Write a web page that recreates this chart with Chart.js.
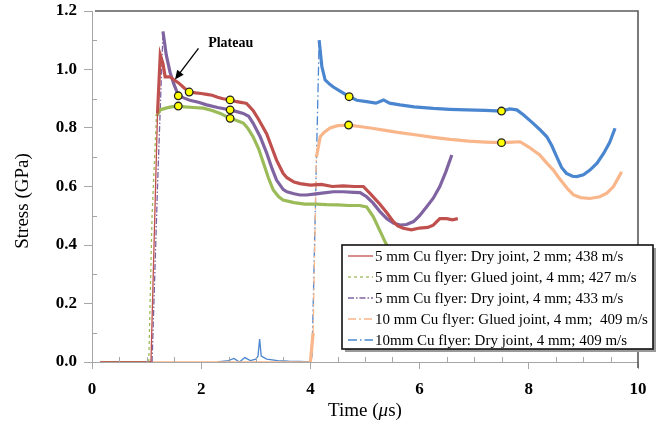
<!DOCTYPE html>
<html><head><meta charset="utf-8">
<script src="https://cdn.jsdelivr.net/npm/chart.js@4.4.1/dist/chart.umd.min.js"></script>
<style>html,body{margin:0;padding:0;background:#fff;}#wrap{width:662px;height:436px;position:relative;}</style>
</head><body><div id="wrap"><canvas id="c" width="662" height="436"></canvas></div>
<script>
// ---- data ----
const seriesLabels = [
  '5 mm Cu flyer: Dry joint, 2 mm; 438 m/s',
  '5 mm Cu flyer: Glued joint, 4 mm; 427 m/s',
  '5 mm Cu flyer: Dry joint, 4 mm; 433 m/s',
  '10 mm Cu flyer: Glued joint, 4 mm;  409 m/s',
  '10mm Cu flyer: Dry joint, 4 mm; 409 m/s'
];
const redT = [0.15,1.08,1.15,1.2,1.25,1.3,1.34,1.43,1.5,1.58,1.7,1.78,1.9,2.0,2.1,2.2,2.3,2.4,2.53,2.65,2.75,2.83,2.95,3.05,3.2,3.3,3.38,3.5,3.57,3.7,3.81,4.0,4.2,4.4,4.6,4.8,4.97,5.1,5.27,5.4,5.52,5.6,5.7,5.85,6.0,6.15,6.25,6.37,6.5,6.6,6.7];
const redV = [0,0,0.5,0.85,1.05,1.02,0.975,0.975,0.965,0.955,0.935,0.923,0.92,0.918,0.915,0.912,0.905,0.9,0.896,0.89,0.887,0.884,0.86,0.83,0.78,0.73,0.69,0.645,0.63,0.615,0.61,0.605,0.607,0.6,0.602,0.6,0.6,0.575,0.54,0.51,0.48,0.465,0.457,0.452,0.458,0.46,0.468,0.49,0.49,0.486,0.49];
const greenT = [0.15,1.04,1.1,1.18,1.25,1.35,1.45,1.58,1.7,1.85,2.04,2.2,2.35,2.53,2.65,2.77,2.85,2.95,3.05,3.14,3.23,3.32,3.42,3.5,3.7,3.9,4.1,4.3,4.5,4.7,4.9,5.03,5.15,5.27,5.37,5.45];
const greenV = [0,0,0.5,0.84,0.862,0.868,0.872,0.875,0.872,0.87,0.868,0.86,0.85,0.833,0.826,0.817,0.8,0.77,0.73,0.68,0.63,0.588,0.565,0.554,0.545,0.54,0.54,0.538,0.537,0.535,0.535,0.53,0.497,0.45,0.41,0.38];
const purpleT = [0.15,1.1,1.2,1.3,1.36,1.43,1.5,1.58,1.68,1.79,1.95,2.1,2.3,2.53,2.65,2.77,2.87,2.95,3.08,3.2,3.3,3.38,3.5,3.57,3.7,3.81,3.93,4.1,4.25,4.42,4.6,4.8,4.91,5.03,5.15,5.27,5.4,5.52,5.64,5.76,5.89,6.0,6.13,6.25,6.37,6.48,6.59];
const purpleV = [0,0,0.6,1.13,1.05,0.99,0.95,0.912,0.903,0.895,0.888,0.879,0.87,0.862,0.856,0.85,0.84,0.817,0.77,0.714,0.66,0.622,0.59,0.582,0.575,0.571,0.571,0.575,0.578,0.582,0.582,0.58,0.579,0.565,0.543,0.515,0.49,0.475,0.468,0.47,0.48,0.5,0.531,0.56,0.6,0.65,0.708];
const orangeT = [0.15,4.0,4.05,4.11,4.18,4.25,4.36,4.5,4.7,4.9,5.1,5.34,5.6,5.95,6.25,6.56,6.9,7.2,7.5,7.7,7.84,8.0,8.2,8.33,8.45,8.55,8.63,8.72,8.82,8.95,9.12,9.3,9.43,9.55,9.7];
const orangeV = [0,0,0.1,0.7,0.77,0.785,0.8,0.808,0.81,0.805,0.8,0.793,0.785,0.776,0.768,0.761,0.755,0.752,0.75,0.752,0.753,0.735,0.708,0.68,0.656,0.63,0.611,0.59,0.571,0.562,0.559,0.565,0.577,0.6,0.65];
const blueT = [2.3,2.5,2.6,2.7,2.8,2.9,3.0,3.04,3.07,3.1,3.2,3.4,3.6,3.8,4.0,4.03,4.1,4.16,4.21,4.27,4.35,4.42,4.55,4.71,4.85,5.03,5.2,5.34,5.45,5.64,5.9,6.25,6.55,6.86,7.2,7.5,7.65,7.78,7.9,8.08,8.2,8.33,8.42,8.51,8.6,8.69,8.8,8.88,9.0,9.12,9.25,9.37,9.48,9.58];
const blueV = [0,0.005,0.012,0,0.015,0.005,0.01,0.02,0.078,0.02,0.01,0.005,0.003,0.002,0,0.02,0.6,1.1,1.01,0.964,0.95,0.94,0.925,0.907,0.895,0.89,0.885,0.896,0.885,0.879,0.872,0.867,0.864,0.862,0.86,0.858,0.865,0.862,0.845,0.816,0.795,0.77,0.74,0.702,0.665,0.645,0.635,0.634,0.64,0.656,0.68,0.713,0.75,0.799];
const markerT = [1.78,2.53,1.58,2.53,1.58,2.53,4.71,7.5,4.7,7.5];
const markerV = [0.923,0.896,0.875,0.833,0.91,0.862,0.907,0.858,0.81,0.75];
const xTickValues = [0,2,4,6,8,10];
const yTickValues = [0,0.2,0.4,0.6,0.8,1.0,1.2];
const annotationText = 'Plateau';

// ---- styles ----
const colors = ['#c0504d','#9bbb59','#8064a2','#f9b68a','#4a86cf'];
const dashes = [[],[3,3],[6,2,1.5,2],[8,3,2,3],[9,3,1.5,3]];
const SERIF = "'Liberation Serif','Times New Roman',serif";

function pts(T,V){ return T.map((t,i)=>({x:t,y:V[i]})); }
const seriesData = [pts(redT,redV),pts(greenT,greenV),pts(purpleT,purpleV),pts(orangeT,orangeV),pts(blueT,blueV)];

const lineSets = seriesData.map((d,i)=>({
  type:'line', label:seriesLabels[i], data:d, borderColor:colors[i], backgroundColor:colors[i],
  borderWidth:3.2, pointRadius:0, tension:0, fill:false, order:i+1,
  segment:{
    borderDash: ctx => { const dy=Math.abs(ctx.p1.parsed.y-ctx.p0.parsed.y), dx=Math.abs(ctx.p1.parsed.x-ctx.p0.parsed.x)||1e-6; return (dy/dx>4 && i>0)? dashes[i] : undefined; },
    borderWidth: ctx => { const dy=Math.abs(ctx.p1.parsed.y-ctx.p0.parsed.y), dx=Math.abs(ctx.p1.parsed.x-ctx.p0.parsed.x)||1e-6; return (dy/dx>4)? 1.3 : (ctx.p0.parsed.y<0.1 && ctx.p1.parsed.y<0.1 ? 1.3 : undefined); }
  }
}));
const markerSet = { type:'scatter', label:'markers', data:pts(markerT,markerV), pointRadius:3.8,
  pointBackgroundColor:'#ffff00', pointBorderColor:'#222', pointBorderWidth:1.3, showLine:false, order:-1 };

const extras = {
  id:'extras',
  afterDraw(chart){
    const c = chart.ctx, a = chart.chartArea, xs = chart.scales.x, ys = chart.scales.y;
    c.save();
    c.strokeStyle='#a6a6a6'; c.lineWidth=1;
    for(let k=1;k<20;k++){ if(k%4===0) continue; const px=Math.round(xs.getPixelForValue(k*0.5))+0.5; c.beginPath(); c.moveTo(px,a.bottom); c.lineTo(px,a.bottom-5); c.stroke(); }
    for(let k=1;k<12;k+=2){ const py=Math.round(ys.getPixelForValue(k*0.1))+0.5; c.beginPath(); c.moveTo(a.left,py); c.lineTo(a.left+5,py); c.stroke(); }
    c.strokeStyle='#5a5a5a'; c.lineWidth=1.6;
    c.beginPath(); c.moveTo(a.left+3,a.top); c.lineTo(a.right,a.top); c.lineTo(a.right,a.bottom+6); c.stroke();
    const tip={x:xs.getPixelForValue(1.52),y:ys.getPixelForValue(0.966)};
    const tail={x:xs.getPixelForValue(1.95),y:ys.getPixelForValue(1.072)};
    c.strokeStyle='#000'; c.fillStyle='#000'; c.lineWidth=1.3;
    const ang=Math.atan2(tip.y-tail.y,tip.x-tail.x);
    c.beginPath(); c.moveTo(tail.x,tail.y); c.lineTo(tip.x-6*Math.cos(ang),tip.y-6*Math.sin(ang)); c.stroke();
    c.beginPath(); c.moveTo(tip.x,tip.y);
    c.lineTo(tip.x-9*Math.cos(ang)+4*Math.sin(ang), tip.y-9*Math.sin(ang)-4*Math.cos(ang));
    c.lineTo(tip.x-9*Math.cos(ang)-4*Math.sin(ang), tip.y-9*Math.sin(ang)+4*Math.cos(ang));
    c.closePath(); c.fill();
    c.font='bold 14px '+SERIF; c.textAlign='center'; c.textBaseline='middle';
    c.fillText(annotationText, xs.getPixelForValue(2.54), ys.getPixelForValue(1.09));
    c.font='19px '+SERIF; c.fillStyle='#000';
    c.save(); c.translate(23,201); c.rotate(-Math.PI/2); c.textAlign='center'; c.textBaseline='middle'; c.fillText('Stress (GPa)',0,0); c.restore();
    const p1='Time (', p2='\u03bc', p3='s)';
    c.textBaseline='middle'; c.textAlign='left';
    c.font='19px '+SERIF; const w1=c.measureText(p1).width, w3=c.measureText(p3).width;
    c.font='italic 19px '+SERIF; const w2=c.measureText(p2).width;
    let x0=(a.left+a.right)/2-(w1+w2+w3)/2; const ty=411;
    c.font='19px '+SERIF; c.fillText(p1,x0,ty);
    c.font='italic 19px '+SERIF; c.fillText(p2,x0+w1,ty);
    c.font='19px '+SERIF; c.fillText(p3,x0+w1+w2,ty);
    const L=342,T=245,R=653,B=349;
    c.fillStyle='#9a9a9a'; c.fillRect(L+3,T+3,R-L,B-T);
    c.fillStyle='#fff'; c.fillRect(L,T,R-L,B-T);
    c.strokeStyle='#111'; c.lineWidth=1.6; c.strokeRect(L,T,R-L,B-T);
    c.font='15px '+SERIF; c.textBaseline='middle'; c.textAlign='left';
    const rows=[256,277,298,319,340];
    seriesLabels.forEach((lab,i)=>{
      c.strokeStyle=colors[i]; c.lineWidth=1.3; c.setLineDash(dashes[i]);
      c.beginPath(); c.moveTo(348,rows[i]); c.lineTo(373,rows[i]); c.stroke(); c.setLineDash([]);
      c.fillStyle='#000'; c.fillText(lab,375,rows[i]+1);
    });
    c.restore();
  }
};

new Chart(document.getElementById('c'),{
  data:{ datasets:[...lineSets, markerSet] },
  options:{
    responsive:false, animation:false, devicePixelRatio:1,
    layout:{padding:{top:11,right:24,left:0,bottom:0}},
    plugins:{legend:{display:false},tooltip:{enabled:false}},
    scales:{
      x:{type:'linear',min:0,max:10,
        afterBuildTicks:s=>{s.ticks=xTickValues.map(v=>({value:v}));},
        afterFit:s=>{s.height=74; s.paddingLeft=0; s.paddingRight=0;},
        ticks:{callback:v=>String(v),font:{family:SERIF,size:17,weight:'bold'},color:'#000',padding:10,maxRotation:0},
        grid:{drawOnChartArea:false,drawTicks:true,tickLength:7,color:'#a6a6a6'},
        border:{display:true,color:'#a6a6a6',width:1}},
      y:{type:'linear',min:0,max:1.2,
        afterBuildTicks:s=>{s.ticks=yTickValues.map(v=>({value:v}));},
        afterFit:s=>{s.width=92; s.paddingTop=0; s.paddingBottom=0;},
        ticks:{callback:v=>Number(v).toFixed(1),font:{family:SERIF,size:17,weight:'bold'},color:'#000',padding:7},
        grid:{drawOnChartArea:false,drawTicks:true,tickLength:8,color:'#a6a6a6'},
        border:{display:true,color:'#a6a6a6',width:1}}
    }
  },
  plugins:[extras]
});
</script></body></html>
